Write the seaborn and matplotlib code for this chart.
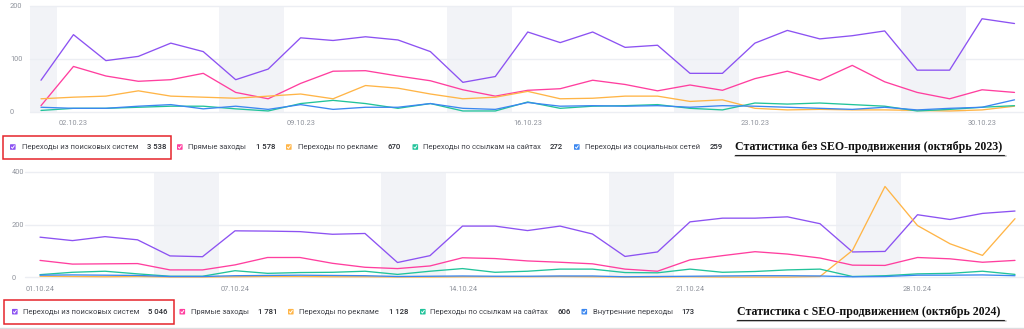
import numpy as np
import pandas as pd
import matplotlib
matplotlib.use("Agg")
import matplotlib.pyplot as plt
import seaborn as sns
from matplotlib.patches import FancyBboxPatch, Rectangle
from matplotlib.lines import Line2D

# ---------------- DATA ----------------
names_2023 = ["Переходы из поисковых систем", "Прямые заходы", "Переходы по рекламе",
              "Переходы по ссылкам на сайтах", "Переходы из социальных сетей"]
totals_2023 = ["3 538", "1 578", "670", "272", "259"]
search_2023 = [59, 145, 96, 104, 129, 113, 60, 80, 139, 134, 141, 135, 113, 55, 66, 150,
               130, 150, 121, 125, 72, 72, 129, 153, 137, 143, 152, 78, 78, 175, 166]
direct_2023 = [11, 85, 67, 57, 60, 72, 36, 24, 53, 76, 77, 67, 58, 41, 29, 40,
               43, 59, 51, 39, 50, 40, 62, 76, 59, 87, 56, 36, 24, 41, 36]
ads_2023 = [24, 27, 29, 39, 29, 27, 25, 29, 33, 24, 49, 44, 33, 24, 27, 38,
            24, 25, 29, 29, 19, 22, 6, 3, 4, 3, 3, 2, 1, 3, 10]
links_2023 = [2, 6, 6, 8, 10, 10, 5, 1, 15, 21, 15, 6, 15, 1, 1, 18,
              6, 10, 11, 13, 6, 3, 16, 14, 16, 13, 10, 1, 4, 8, 11]
social_2023 = [8, 6, 6, 10, 13, 5, 10, 4, 13, 4, 8, 8, 15, 6, 4, 17,
               10, 11, 10, 11, 8, 11, 10, 8, 6, 4, 8, 3, 6, 8, 22]

names_2024 = ["Переходы из поисковых систем", "Прямые заходы", "Переходы по рекламе",
              "Переходы по ссылкам на сайтах", "Внутренние переходы"]
totals_2024 = ["5 046", "1 781", "1 128", "606", "173"]
search_2024 = [152, 139, 154, 142, 81, 78, 176, 175, 173, 163, 166, 56, 82, 194, 194, 177,
               194, 164, 79, 96, 210, 224, 224, 229, 203, 96, 98, 237, 219, 242, 251]
direct_2024 = [64, 50, 51, 52, 28, 28, 47, 75, 75, 53, 38, 33, 43, 74, 71, 62,
               57, 51, 31, 23, 66, 82, 97, 88, 73, 46, 45, 75, 70, 57, 64]
ads_2024 = [4, 3, 2, 3, 1, 1, 2, 3, 3, 2, 2, 1, 1, 2, 2, 2,
            3, 2, 1, 1, 2, 1, 1, 1, 3, 102, 344, 196, 127, 83, 222]
links_2024 = [10, 19, 23, 13, 4, 4, 25, 15, 18, 19, 23, 11, 23, 33, 19, 23,
              31, 31, 18, 17, 31, 19, 22, 28, 31, 3, 6, 13, 15, 23, 11]
internal_2024 = [8, 9, 8, 7, 3, 3, 6, 7, 8, 7, 6, 3, 4, 5, 4, 4,
                 5, 5, 2, 3, 4, 5, 6, 6, 5, 2, 3, 8, 8, 9, 6]

xticks_2023 = ["02.10.23", "09.10.23", "16.10.23", "23.10.23", "30.10.23"]
xticks_2024 = ["01.10.24", "07.10.24", "14.10.24", "21.10.24", "28.10.24"]
title_2023 = "Статистика без SEO-продвижения (октябрь 2023)"
title_2024 = "Статистика с SEO-продвижением (октябрь 2024)"

colors = ["#8c52f2", "#ff3f9f", "#ffb547", "#22c39a", "#3b87f0"]

# ---------------- STYLE ----------------
sns.set_theme(style="white")
plt.rcParams['font.family'] = ['Roboto', 'DejaVu Sans']

W, H = 1024, 329
fig = plt.figure(figsize=(W / 100, H / 100), dpi=100)
fig.patch.set_facecolor("white")


def fx(x):
    return x / W


def fy(y):
    return 1 - y / H


def make_df(names, series, start):
    dates = pd.date_range(start, periods=31, freq="D")
    rows = []
    for n, vals in zip(names, series):
        for i, v in enumerate(vals):
            rows.append({"day": i, "date": dates[i], "series": n, "value": v})
    return pd.DataFrame(rows)


def draw_panel(ax, df, names, ymax, yticks, tick_pos, tick_labels, start, ylab_pad):
    dates = pd.date_range(start, periods=31, freq="D")
    for i, d in enumerate(dates):
        if d.weekday() >= 5:
            ax.axvspan(i - 0.5, i + 0.5, color="#f2f3f7", lw=0, zorder=0)
    for yv in yticks:
        ax.axhline(yv, color="#eceef3", lw=1.0, zorder=0.5)
    sns.lineplot(data=df, x="day", y="value", hue="series", hue_order=names,
                 palette=colors, legend=False, linewidth=0.95, ax=ax, zorder=3)
    for ln in ax.lines:
        ln.set_clip_on(False)
    ax.set_ylim(0, ymax)
    ax.set_yticks(yticks)
    ax.set_yticklabels([str(v) for v in yticks])
    ax.set_xticks(tick_pos)
    ax.set_xticklabels(tick_labels)
    ax.set_xlabel("")
    ax.set_ylabel("")
    for s in ax.spines.values():
        s.set_visible(False)
    ax.tick_params(axis="x", length=2, width=0.6, color="#d8dae0", pad=4,
                   labelsize=5.3, labelcolor="#8f939c")
    ax.tick_params(axis="y", length=0, pad=ylab_pad, labelsize=5.3, labelcolor="#8f939c")
    for lab in ax.get_yticklabels():
        lab.set_horizontalalignment("left")
    ax.set_facecolor("white")


# top panel
ax1 = fig.add_axes([fx(30), fy(111.5), (1023 - 30) / W, (111.5 - 5.5) / H])
df1 = make_df(names_2023, [search_2023, direct_2023, ads_2023, links_2023, social_2023], "2023-10-01")
ax1.set_xlim((30 - 41) / 32.45, (1023 - 41) / 32.45)
draw_panel(ax1, df1, names_2023, 200, [0, 100, 200], [1, 8, 15, 22, 29], xticks_2023,
           "2023-10-01", 20 * 0.72)

# bottom panel
ax2 = fig.add_axes([fx(25), fy(277.3), (1023 - 25) / W, (277.3 - 171.7) / H])
df2 = make_df(names_2024, [search_2024, direct_2024, ads_2024, links_2024, internal_2024], "2024-10-01")
ax2.set_xlim((25 - 40) / 32.5, (1023 - 40) / 32.5)
draw_panel(ax2, df2, names_2024, 400, [0, 200, 400], [0, 6, 13, 20, 27], xticks_2024,
           "2024-10-01", 13.5 * 0.72)


# ---------------- LEGENDS ----------------
def checkbox(x, y, color):
    s = 5.6
    fig.add_artist(FancyBboxPatch((fx(x), fy(y + s / 2)), s / W, s / H,
                                  boxstyle="round,pad=0,rounding_size=0.0012",
                                  transform=fig.transFigure, facecolor=color,
                                  edgecolor="none"))
    fig.add_artist(Line2D([fx(x + 1.4), fx(x + 2.5), fx(x + 4.3)],
                          [fy(y + 0.1), fy(y + 1.3), fy(y - 1.3)],
                          transform=fig.transFigure, color="white", lw=0.7))


def legend_row(y, names, totals, box_x, label_x, count_x):
    for i in range(len(names)):
        checkbox(box_x[i], y, colors[i])
        fig.text(fx(label_x[i]), fy(y), names[i], fontsize=5.5, color="#404249",
                 va="center", ha="left")
        fig.text(fx(count_x[i]), fy(y), totals[i], fontsize=5.6, color="#2b2d33",
                 va="center", ha="left", fontweight="medium")


legend_row(147, names_2023, totals_2023,
           [10, 177, 286, 412.5, 574], [22, 188, 298, 423, 585], [147, 256, 388, 550, 710])
legend_row(311.7, names_2024, totals_2024,
           [12, 179.5, 288, 420, 581.5], [23, 191, 299, 430, 593], [148, 258, 389, 557, 681])

# red highlight boxes
fig.add_artist(Rectangle((fx(3), fy(159)), (171 - 3) / W, (159 - 136) / H,
                         transform=fig.transFigure, fill=False, edgecolor="#e5252b", lw=1.1))
fig.add_artist(Rectangle((fx(4), fy(324)), (174 - 4) / W, (324 - 300) / H,
                         transform=fig.transFigure, fill=False, edgecolor="#e5252b", lw=1.1))

# titles with underline
for title, x0, x1, y in [(title_2023, 735, 1004, 147), (title_2024, 737, 1004, 311.7)]:
    fig.text(fx(x0), fy(y), title, fontsize=8.6, fontweight="bold", color="#111111",
             family=["Liberation Serif", "DejaVu Serif"], va="center", ha="left")
    fig.add_artist(Line2D([fx(x0), fx(x1 + 2)], [fy(y + 9.4), fy(y + 9.4)],
                          transform=fig.transFigure, color="#b9b9b9", lw=1.2))
    fig.add_artist(Line2D([fx(x0), fx(x1)], [fy(y + 8.2), fy(y + 8.2)],
                          transform=fig.transFigure, color="#222222", lw=0.8))

# bottom separator line
fig.add_artist(Line2D([0, 1], [fy(327.5), fy(327.5)], transform=fig.transFigure,
                      color="#dcdde0", lw=1.0))

fig.savefig("out.png", dpi=100, facecolor="white")
